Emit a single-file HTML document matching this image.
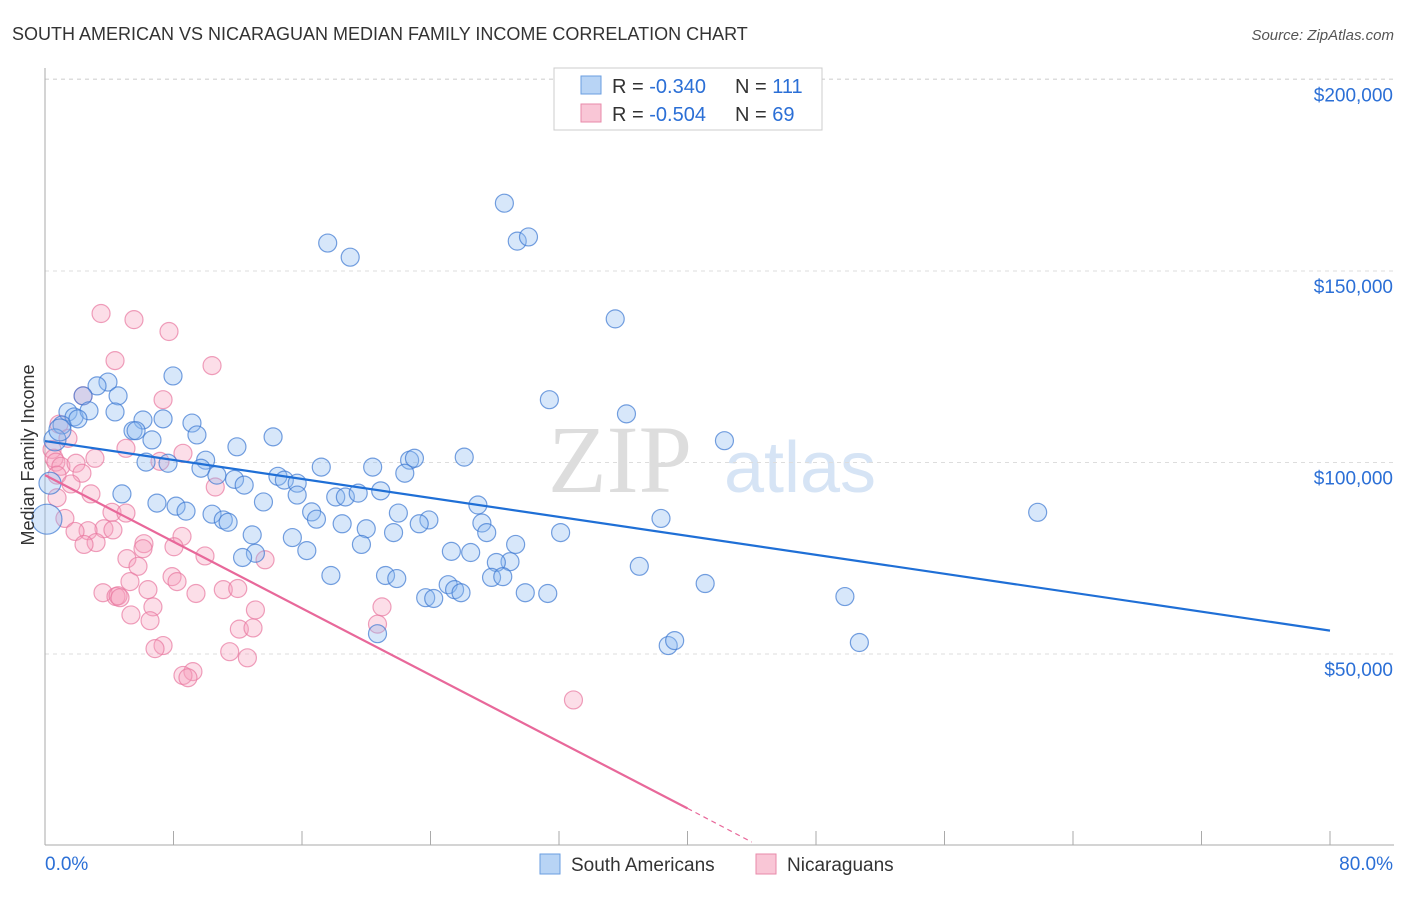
<!DOCTYPE html>
<html><head><meta charset="utf-8"><style>
body{margin:0;background:#fff;font-family:"Liberation Sans",sans-serif}
</style></head><body>
<svg id="c" width="1406" height="892" xmlns="http://www.w3.org/2000/svg" style="font-family:'Liberation Sans',sans-serif">
<text x="12" y="40" font-size="18" fill="#333">SOUTH AMERICAN VS NICARAGUAN MEDIAN FAMILY INCOME CORRELATION CHART</text>
<text x="1394" y="40" font-size="15" fill="#555" text-anchor="end" font-style="italic">Source: ZipAtlas.com</text>
<text x="620" y="492" font-size="96" fill="#ddd" font-family="Liberation Serif" text-anchor="middle">ZIP</text>
<text x="800" y="492" font-size="72" fill="#d6e4f5" text-anchor="middle">atlas</text>
<g id="grid"></g><g id="axes"></g><g id="pts"></g><g id="trend"></g>
<text transform="translate(34,455) rotate(-90)" font-size="18" fill="#333" text-anchor="middle">Median Family Income</text>
<g>
<rect x="554" y="68" width="268" height="62" fill="#fff" stroke="#ccc"/>
<rect x="581" y="76" width="20" height="18" fill="#b8d4f5" stroke="#6a9ee0"/>
<rect x="581" y="104" width="20" height="18" fill="#f9c6d6" stroke="#e88aaa"/>
<text x="612" y="93" font-size="20" fill="#333">R = <tspan fill="#2b6fd6">-0.340</tspan></text>
<text x="735" y="93" font-size="20" fill="#333">N = <tspan fill="#2b6fd6">111</tspan></text>
<text x="612" y="121" font-size="20" fill="#333">R = <tspan fill="#2b6fd6">-0.504</tspan></text>
<text x="735" y="121" font-size="20" fill="#333">N = <tspan fill="#2b6fd6">69</tspan></text>
</g>
<g>
<rect x="540" y="854" width="20" height="20" fill="#b8d4f5" stroke="#6a9ee0"/>
<text x="571" y="871" font-size="19" fill="#333">South Americans</text>
<rect x="756" y="854" width="20" height="20" fill="#f9c6d6" stroke="#e88aaa"/>
<text x="787" y="871" font-size="19" fill="#333">Nicaraguans</text>
</g>
</svg>
<script>
const xTicks=[0,80];
const yTicks=[50000,100000,150000,200000];
const yTickLabels=["$50,000","$100,000","$150,000","$200,000"];
const blueX=[28.6,17.6,19.0,29.4,30.1,35.5,7.97,3.92,3.24,4.55,2.37,1.43,1.81,2.74,4.36,6.10,7.35,9.15,1.06,2.05,5.48,5.67,9.46,6.66,14.2,11.95,31.4,36.2,42.3,26.1,22.7,23.0,6.29,7.66,10.0,9.71,17.2,20.4,14.5,11.8,10.7,14.9,15.7,22.4,12.4,4.79,6.97,8.16,13.6,15.7,18.1,18.7,19.5,20.9,26.95,8.78,10.4,11.1,11.4,16.6,16.9,22.0,23.9,23.3,18.5,20.0,21.7,27.2,27.5,32.1,38.35,61.8,12.9,15.4,19.7,16.3,13.1,12.3,25.3,26.5,29.3,28.95,28.1,37.0,17.8,21.2,21.9,27.8,28.5,25.1,25.5,25.9,23.7,24.2,29.9,31.3,41.1,49.8,20.7,38.8,39.2,50.7,0.31,0.12,0.62,0.93];
const blueY=[167.7,157.3,153.6,157.8,158.9,137.5,122.6,121.0,120.0,117.4,117.4,113.2,111.9,113.5,113.2,111.1,111.4,110.3,109.8,111.4,108.3,108.3,107.2,105.9,106.7,104.1,116.4,112.7,105.7,101.4,100.6,101.1,100.1,99.8,100.6,98.5,98.8,98.8,96.4,95.6,96.7,95.4,94.6,97.2,94.1,91.8,89.4,88.6,89.7,91.5,91.0,91.0,92.0,92.6,88.9,87.3,86.5,85.0,84.4,87.1,85.2,86.8,85.0,84.0,84.0,82.7,81.7,84.2,81.7,81.7,85.4,87.0,81.1,80.4,78.6,77.0,76.3,75.2,76.8,76.5,78.6,74.1,73.9,72.9,70.5,70.5,69.7,70.0,70.2,68.1,66.8,66.0,64.7,64.5,66.0,65.8,68.4,65.0,55.3,52.2,53.5,53.0,94.6,85.2,105.9,108.5];
const pinkX=[3.49,5.54,7.72,4.36,10.4,2.37,7.35,0.87,1.43,0.44,5.04,0.56,0.68,3.11,0.99,1.93,7.16,8.59,2.30,0.75,1.62,2.86,10.6,0.75,4.17,5.04,1.24,3.67,2.68,4.23,1.87,8.53,3.18,2.43,6.16,6.10,8.03,5.10,5.79,13.7,9.96,7.91,8.22,5.29,3.61,4.42,6.41,9.40,11.1,12.0,6.72,13.1,5.35,6.54,20.98,20.7,12.1,12.95,7.35,6.85,11.5,12.6,9.21,8.59,8.90,32.9,4.55,4.67];
const pinkY=[138.9,137.3,134.2,126.6,125.3,117.4,116.4,110.0,106.3,103.4,103.7,101.1,100.1,101.1,99.0,99.8,100.3,102.4,97.2,96.7,94.4,91.8,93.6,90.8,87.0,86.8,85.4,82.7,82.2,82.4,82.0,80.7,79.1,78.6,78.8,77.5,78.0,74.9,72.9,74.6,75.6,70.2,68.9,68.9,66.0,65.0,66.8,65.8,66.8,67.1,62.3,61.5,60.2,58.7,62.3,57.8,56.5,56.8,52.2,51.4,50.6,49.0,45.4,44.4,43.8,38.0,65.2,64.7];
const blueTrend=[[0,105.6],[80,56.1]];
const pinkTrend=[[0,96.7],[40,9.7],[44,0.9]];
const X0=45,X1=1330,YB=845.5,YS=191.5/50000;
const xs=v=>X0+(v/80)*(X1-X0);
const ys=v=>YB-v*YS;
const ns="http://www.w3.org/2000/svg";
function mk(tag,attrs,parent){const e=document.createElementNS(ns,tag);for(const k in attrs)e.setAttribute(k,attrs[k]);document.getElementById(parent).appendChild(e);return e;}
yTicks.forEach((t,i)=>{
 const l=mk('line',{x1:45,x2:1394,y1:ys(t),y2:ys(t),stroke:'#ddd','stroke-dasharray':'4,4'},'grid');
 
 
 const tx=mk('text',{x:1393,y:ys(t)+22,'font-size':19,fill:'#2b6fd6','text-anchor':'end'},'axes');
 tx.textContent=yTickLabels[i];
 
 
});
const topGrid=mk('line',{x1:45,x2:1394,y1:79,y2:79,stroke:'#ddd','stroke-dasharray':'4,4'},'grid');


const ya=mk('line',{x1:45,x2:45,y1:68,y2:845,stroke:'#aaa'},'axes');


const xa=mk('line',{x1:45,x2:1394,y1:845,y2:845,stroke:'#aaa'},'axes');


for(let i=0;i<=10;i++){const v=i*8;
 const t=mk('line',{x1:xs(v),x2:xs(v),y1:831,y2:845,stroke:'#aaa'},'axes');
 
 
}
xTicks.forEach((v,i)=>{
 const t=mk('text',{x:i?1393:45,y:870,'font-size':19,fill:'#2b6fd6','text-anchor':i?'end':'start'},'axes');
 t.textContent=v.toFixed(1)+'%';
 
 
});
pinkX.forEach((v,i)=>{
 const c=mk('circle',{cx:xs(v),cy:ys(pinkY[i]*1000),r:9,fill:'rgba(245,160,190,0.35)',stroke:'rgba(232,120,160,0.7)','stroke-width':1.2},'pts');
 
 
});
blueX.forEach((v,i)=>{
 const r=i>=blueX.length-4?(i===blueX.length-3?15:11):9;
 const c=mk('circle',{cx:xs(v),cy:ys(blueY[i]*1000),r:r,fill:'rgba(140,185,240,0.35)',stroke:'rgba(60,120,210,0.7)','stroke-width':1.2},'pts');
 
 
});
const bl=mk('line',{x1:xs(blueTrend[0][0]),y1:ys(blueTrend[0][1]*1000),x2:xs(blueTrend[1][0]),y2:ys(blueTrend[1][1]*1000),stroke:'#1f6fd6','stroke-width':2.2},'trend');


const pl=mk('line',{x1:xs(pinkTrend[0][0]),y1:ys(pinkTrend[0][1]*1000),x2:xs(pinkTrend[1][0]),y2:ys(pinkTrend[1][1]*1000),stroke:'#e8689a','stroke-width':2.2},'trend');


const pd=mk('line',{x1:xs(pinkTrend[1][0]),y1:ys(pinkTrend[1][1]*1000),x2:xs(pinkTrend[2][0]),y2:ys(pinkTrend[2][1]*1000),stroke:'#e8689a','stroke-width':1.2,'stroke-dasharray':'5,4'},'trend');


</script>
</body></html>
